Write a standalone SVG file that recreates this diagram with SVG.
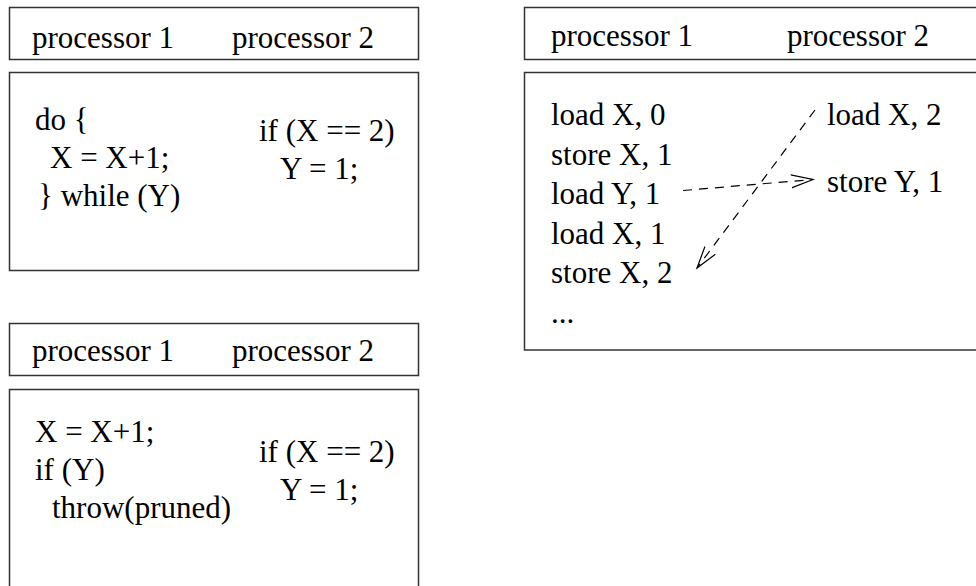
<svg xmlns="http://www.w3.org/2000/svg" width="976" height="586" viewBox="0 0 976 586">
  <style>
    .frame { fill: #ffffff; stroke: #333333; stroke-width: 1.5; }
    .t { font-family: "Liberation Serif", "Times New Roman", serif; font-size: 31px; fill: #000000; }
    .dep { fill: none; stroke: #000000; stroke-width: 1.2; stroke-dasharray: 9 7; }
  </style>
  <defs>
    <marker id="openHead" markerUnits="userSpaceOnUse" markerWidth="30" markerHeight="20" refX="22" refY="7" orient="auto">
      <path d="M 0,0.5 L 22,7 L 0,13.5" fill="none" stroke="#000000" stroke-width="1.2"/>
    </marker>
  </defs>

  <!-- program with the do/while loop -->
  <g id="loop-program">
    <rect class="frame" x="9.5" y="7.5" width="409" height="52"/>
    <text class="t" x="32" y="48">processor 1</text>
    <text class="t" x="232" y="48">processor 2</text>
    <rect class="frame" x="9.5" y="72.5" width="409" height="198"/>
    <text class="t" x="35" y="130">do {</text>
    <text class="t" x="50" y="168">X = X+1;</text>
    <text class="t" x="38" y="206">} while (Y)</text>
    <text class="t" x="259" y="141">if (X == 2)</text>
    <text class="t" x="280" y="179">Y = 1;</text>
  </g>

  <!-- pruned program -->
  <g id="pruned-program">
    <rect class="frame" x="9.5" y="323.5" width="409" height="52"/>
    <text class="t" x="32" y="361">processor 1</text>
    <text class="t" x="232" y="361">processor 2</text>
    <rect class="frame" x="9.5" y="389.5" width="409" height="220"/>
    <text class="t" x="35" y="442">X = X+1;</text>
    <text class="t" x="35" y="480">if (Y)</text>
    <text class="t" x="52" y="518">throw(pruned)</text>
    <text class="t" x="259" y="462">if (X == 2)</text>
    <text class="t" x="280" y="500">Y = 1;</text>
  </g>

  <!-- execution trace -->
  <g id="trace">
    <rect class="frame" x="524.5" y="7.5" width="470" height="52"/>
    <text class="t" x="551" y="46">processor 1</text>
    <text class="t" x="787" y="46">processor 2</text>
    <rect class="frame" x="524.5" y="72.5" width="470" height="277.5"/>
    <text class="t" x="551" y="125">load X, 0</text>
    <text class="t" x="551" y="164.5">store X, 1</text>
    <text class="t" x="551" y="204">load Y, 1</text>
    <text class="t" x="551" y="243.5">load X, 1</text>
    <text class="t" x="551" y="283">store X, 2</text>
    <text class="t" x="551" y="322.5">...</text>
    <text class="t" x="827" y="125">load X, 2</text>
    <text class="t" x="827" y="192">store Y, 1</text>
  </g>

  <!-- dependence arrows -->
  <g id="connectors">
    <path class="dep" d="M 683,190.5 L 813,179.5" marker-end="url(#openHead)"/>
    <path class="dep" d="M 815,110 L 697,268" marker-end="url(#openHead)"/>
  </g>
</svg>
